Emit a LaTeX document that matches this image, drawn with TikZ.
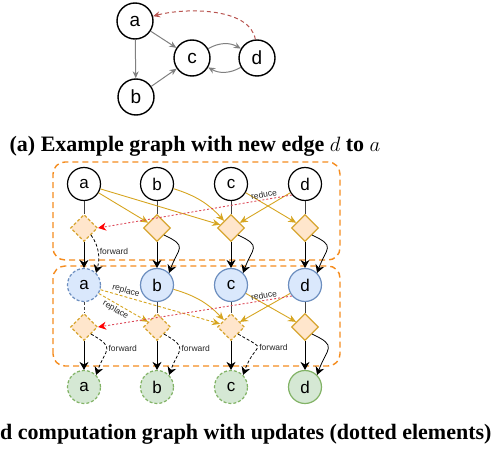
\documentclass[tikz,border=0pt]{standalone}
\usepackage{fontspec}
\setmainfont{Liberation Serif}
\setsansfont{Liberation Sans}
\usepackage{xcolor}
\usetikzlibrary{shapes.geometric, arrows.meta}

\definecolor{goldline}{HTML}{D6A520}
\definecolor{aggfill}{HTML}{FFE6CC}
\definecolor{aggline}{HTML}{D7A530}
\definecolor{bluefill}{HTML}{DAE8FC}
\definecolor{blueline}{HTML}{6C8EBF}
\definecolor{greenfill}{HTML}{D5E8D4}
\definecolor{greenline}{HTML}{82B366}
\definecolor{boxline}{HTML}{F58C1E}
\definecolor{newedge}{HTML}{B85450}
\definecolor{reduceline}{HTML}{DC4858}

\begin{document}
\begin{tikzpicture}[
		x=1pt, y=1pt,
		vertex/.style={circle, draw, line width=1.2pt, minimum size=33pt, inner sep=0pt, font=\sffamily\fontsize{17}{17}\selectfont},
		gnode/.style={vertex, fill=white, minimum size=36pt, line width=1.4pt, font=\sffamily\fontsize{19}{19}\selectfont},
		plain/.style={vertex, fill=white, draw=black},
		embed/.style={vertex, fill=bluefill, draw=blueline},
		outnode/.style={vertex, fill=greenfill, draw=greenline},
		agg/.style={diamond, draw=aggline, fill=aggfill, line width=1.2pt, minimum size=27pt, inner sep=0pt},
		upd/.style={dash pattern=on 3pt off 2pt},
		link/.style={draw=gray, line width=1pt, -{Stealth[length=7pt, width=6pt]}},
		newlink/.style={draw=newedge, line width=1pt, dash pattern=on 4pt off 3pt, -{Stealth[length=7pt, width=6pt]}},
		stem/.style={draw=black!75, line width=0.8pt},
		down/.style={draw=black, line width=0.8pt, -{Stealth[length=8pt, width=9pt]}},
		msg/.style={draw=goldline, line width=0.9pt, -{Stealth[length=8pt, width=7pt]}},
		redline/.style={draw=reduceline, line width=0.9pt, dash pattern=on 2pt off 2pt, -{Stealth[length=8pt, width=8pt, color=red]}},
		stage/.style={draw=boxline, line width=1.4pt, dash pattern=on 6pt off 4pt, rounded corners=12pt},
		lbl/.style={font=\sffamily\fontsize{8.5}{9}\selectfont, inner sep=1.5pt, text=black!85},
		caption/.style={font=\bfseries\fontsize{22}{25}\selectfont, inner sep=0pt}
		]
		\useasboundingbox (0,0) rectangle (500,448);
		
		% Stages
		\draw[stage] (53,188) rectangle (340,286);
		\draw[stage] (53,82) rectangle (340,182);
		
		% Example graph
		\node[gnode] (a) at (135,427) {a};
		\node[gnode] (b) at (136,351) {b};
		\node[gnode] (c) at (192,390) {c};
		\node[gnode] (d) at (257,390) {d};
		\node[caption, anchor=base] (capa) at (195,297) {(a) Example graph with new edge $d$ to $a$};
		
		% Layer 1
		\node[plain] (a1) at (84,264) {a};
		\node[plain] (b1) at (157,264) {b};
		\node[plain] (c1) at (231,264) {c};
		\node[plain] (d1) at (305,264) {d};
		\node[agg, upd] (a1x) at (84,220) {};
		\node[agg] (b1x) at (157,220) {};
		\node[agg] (c1x) at (231,220) {};
		\node[agg] (d1x) at (305,220) {};
		
		% Layer 2
		\node[embed, upd] (a2) at (84,163) {a};
		\node[embed] (b2) at (157,163) {b};
		\node[embed] (c2) at (231,163) {c};
		\node[embed] (d2) at (305,163) {d};
		\node[agg, upd] (a2x) at (84,121) {};
		\node[agg, upd] (b2x) at (157,121) {};
		\node[agg, upd] (c2x) at (231,121) {};
		\node[agg] (d2x) at (305,121) {};
		
		% Output
		\node[outnode, upd] (a3) at (84,61) {a};
		\node[outnode, upd] (b3) at (157,61) {b};
		\node[outnode, upd] (c3) at (231,61) {c};
		\node[outnode] (d3) at (305,61) {d};
		\node[caption, anchor=base west] (capb) at (0,9) {d computation graph with updates (dotted elements)};
		
		% Connections: example graph
		\draw[link] (a) -- (b);
		\draw[link] (a) -- (c);
		\draw[link] (b) -- (c);
		\draw[link] (c) to[bend left=30] (d);
		\draw[link] (d) to[bend left=30] (c);
		\draw[newlink] (d.95) to[out=100, in=15, looseness=0.8] (a);
		
		% Connections: layer 1
		\draw[stem] (a1) -- (a1x);
		\draw[stem] (b1) -- (b1x);
		\draw[stem] (c1) -- (c1x);
		\draw[stem] (d1) -- (d1x);
		\draw[msg] (a1) -- (b1x);
		\draw[msg] (a1) -- (c1x);
		\draw[msg] (b1) to[bend left=15] (c1x);
		\draw[msg] (c1) -- (d1x);
		\draw[msg] (d1) -- (c1x);
		\draw[redline] (d1.220) -- (a1x.east) node[lbl, pos=0.14, sloped, above] {reduce};
		\draw[down] (a1x) -- (a2);
		\draw[down] (b1x) -- (b2);
		\draw[down] (c1x) -- (c2);
		\draw[down] (d1x) -- (d2);
		\draw[down, upd] (a1x.south east) to[out=-55, in=75] node[lbl, right, pos=0.45] {forward} (a2.north east);
		\draw[down] (b1x.south east) to[out=-25, in=70, looseness=1.8] (b2.north east);
		\draw[down] (c1x.south east) to[out=-25, in=70, looseness=1.8] (c2.north east);
		\draw[down] (d1x.south east) to[out=-25, in=70, looseness=1.8] (d2.north east);
		
		% Connections: layer 2
		\draw[stem, upd] (a2) -- (a2x);
		\draw[stem] (b2) -- (b2x);
		\draw[stem] (c2) -- (c2x);
		\draw[stem] (d2) -- (d2x);
		\draw[msg, upd] (a2) -- (c2x) node[lbl, pos=0.2, sloped, above] {replace};
		\draw[msg, upd] (a2) -- (b2x) node[lbl, pos=0.4, sloped, below] {replace};
		\draw[msg] (b2) to[bend left=15] (c2x);
		\draw[msg] (c2) -- (d2x);
		\draw[msg] (d2) -- (c2x);
		\draw[redline] (d2.220) -- (a2x.east) node[lbl, pos=0.14, sloped, above] {reduce};
		\draw[down] (a2x) -- (a3);
		\draw[down] (b2x) -- (b3);
		\draw[down] (c2x) -- (c3);
		\draw[down] (d2x) -- (d3);
		\draw[down, upd] (a2x.south east) to[out=-30, in=70, looseness=1.8] node[lbl, right, pos=0.45] {forward} (a3.north east);
		\draw[down, upd] (b2x.south east) to[out=-30, in=70, looseness=1.8] node[lbl, right, pos=0.45] {forward} (b3.north east);
		\draw[down, upd] (c2x.south east) to[out=-30, in=70, looseness=2.3] node[lbl, right, pos=0.45] {forward} (c3.north east);
		\draw[down] (d2x.south east) to[out=-25, in=70, looseness=1.8] (d3.north east);
		
\end{tikzpicture}
\end{document}
